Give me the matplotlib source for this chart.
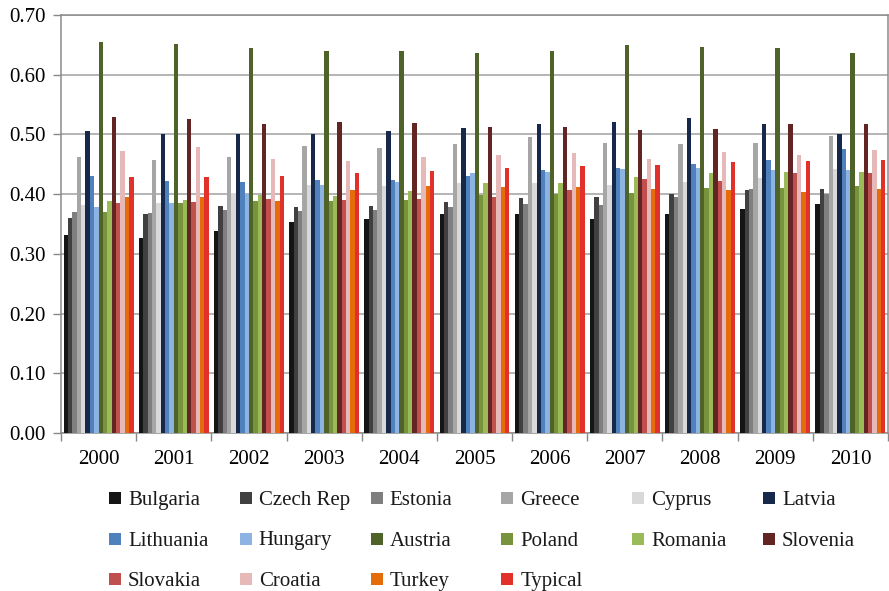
import numpy as np
import matplotlib
matplotlib.use("Agg")
import matplotlib.pyplot as plt
from matplotlib.patches import Rectangle

years = ["2000", "2001", "2002", "2003", "2004", "2005",
         "2006", "2007", "2008", "2009", "2010"]

countries = ["Bulgaria", "Czech Rep", "Estonia", "Greece", "Cyprus", "Latvia",
             "Lithuania", "Hungary", "Austria", "Poland", "Romania", "Slovenia",
             "Slovakia", "Croatia", "Turkey", "Typical"]

bulgaria  = [0.332, 0.326, 0.339, 0.354, 0.358, 0.366, 0.367, 0.359, 0.367, 0.375, 0.384]
czech     = [0.360, 0.366, 0.380, 0.379, 0.380, 0.387, 0.393, 0.395, 0.400, 0.407, 0.408]
estonia   = [0.370, 0.368, 0.373, 0.372, 0.374, 0.379, 0.384, 0.381, 0.396, 0.409, 0.400]
greece    = [0.463, 0.458, 0.462, 0.480, 0.477, 0.484, 0.495, 0.486, 0.484, 0.485, 0.497]
cyprus    = [0.382, 0.385, 0.402, 0.415, 0.413, 0.418, 0.419, 0.415, 0.421, 0.427, 0.442]
latvia    = [0.505, 0.500, 0.501, 0.500, 0.506, 0.511, 0.517, 0.521, 0.528, 0.518, 0.501]
lithuania = [0.430, 0.422, 0.420, 0.424, 0.424, 0.431, 0.440, 0.444, 0.450, 0.458, 0.475]
hungary   = [0.379, 0.385, 0.401, 0.415, 0.421, 0.436, 0.437, 0.442, 0.443, 0.440, 0.441]
austria   = [0.654, 0.651, 0.645, 0.640, 0.639, 0.636, 0.640, 0.649, 0.646, 0.645, 0.637]
poland    = [0.370, 0.385, 0.388, 0.389, 0.391, 0.398, 0.400, 0.402, 0.411, 0.411, 0.413]
romania   = [0.388, 0.390, 0.398, 0.397, 0.405, 0.418, 0.418, 0.429, 0.436, 0.437, 0.437]
slovenia  = [0.529, 0.526, 0.517, 0.521, 0.519, 0.512, 0.513, 0.508, 0.509, 0.518, 0.517]
slovakia  = [0.385, 0.387, 0.392, 0.391, 0.392, 0.396, 0.407, 0.426, 0.422, 0.435, 0.436]
croatia   = [0.473, 0.479, 0.459, 0.456, 0.463, 0.465, 0.469, 0.459, 0.471, 0.466, 0.474]
turkey    = [0.396, 0.396, 0.389, 0.407, 0.413, 0.412, 0.412, 0.409, 0.407, 0.403, 0.408]
typical   = [0.428, 0.428, 0.431, 0.436, 0.439, 0.444, 0.447, 0.449, 0.453, 0.456, 0.458]

series = [bulgaria, czech, estonia, greece, cyprus, latvia, lithuania, hungary,
          austria, poland, romania, slovenia, slovakia, croatia, turkey, typical]

colors = ["#151515", "#404040", "#7f7f7f", "#a6a6a6", "#d9d9d9", "#17294a",
          "#4f81bd", "#8db3e2", "#4f6228", "#77933c", "#9bbb59", "#632523",
          "#c0504d", "#e6b9b8", "#e46c0a", "#e2312a"]

plt.rcParams["font.family"] = ["Liberation Serif", "DejaVu Serif"]
plt.rcParams["font.size"] = 15

W, H = 889, 591
fig = plt.figure(figsize=(W / 100, H / 100), dpi=100)
ax = fig.add_axes([61 / W, (H - 433) / H, 827 / W, 418 / H])

n = len(series)
x = np.arange(len(years))
group_w = 0.93
bw = group_w / n
for i, (vals, col) in enumerate(zip(series, colors)):
    offs = -group_w / 2 + bw * (i + 0.5)
    ax.bar(x + offs, vals, width=bw, color=col, linewidth=0, zorder=3)

ax.set_xlim(-0.5, len(years) - 0.5)
ax.set_ylim(0, 0.70)
ax.set_yticks(np.arange(0, 0.71, 0.1))
ax.set_yticklabels([f"{v:.2f}" for v in np.arange(0, 0.71, 0.1)])
ax.yaxis.grid(True, color="#a0a0a0", linewidth=1.1, zorder=0)
ax.set_axisbelow(True)

ax.set_xticks(x)
ax.set_xticklabels(years)
ax.set_xticks(np.arange(-0.5, len(years)), minor=True)
ax.tick_params(axis="x", which="major", length=0, pad=12)
ax.tick_params(axis="x", which="minor", length=6, color="#888888", width=1)
ax.tick_params(axis="y", length=6, color="#888888", width=1, pad=5)

for side in ["left", "bottom", "top", "right"]:
    ax.spines[side].set_color("#8c8c8c")
    ax.spines[side].set_linewidth(1.1)

# legend: 6 equal-width columns, entries read row by row
ncol = 6
col_x0, col_step = 109, 130.8      # pixel x of first swatch, column pitch
row_y0, row_step = 498, 40.5       # pixel y (from top) of first row centre, row pitch
sw = 12                            # swatch size in pixels
for k, (name, col) in enumerate(zip(countries, colors)):
    r, c = divmod(k, ncol)
    px = col_x0 + c * col_step
    py = row_y0 + r * row_step
    fig.add_artist(Rectangle((px / W, (H - py - sw / 2) / H), sw / W, sw / H,
                             transform=fig.transFigure, facecolor=col,
                             edgecolor="none"))
    fig.text((px + sw + 7) / W, (H - py) / H, name, ha="left", va="center_baseline",
             fontsize=15, color="#1a1a1a")

fig.savefig("out.png", dpi=100)
